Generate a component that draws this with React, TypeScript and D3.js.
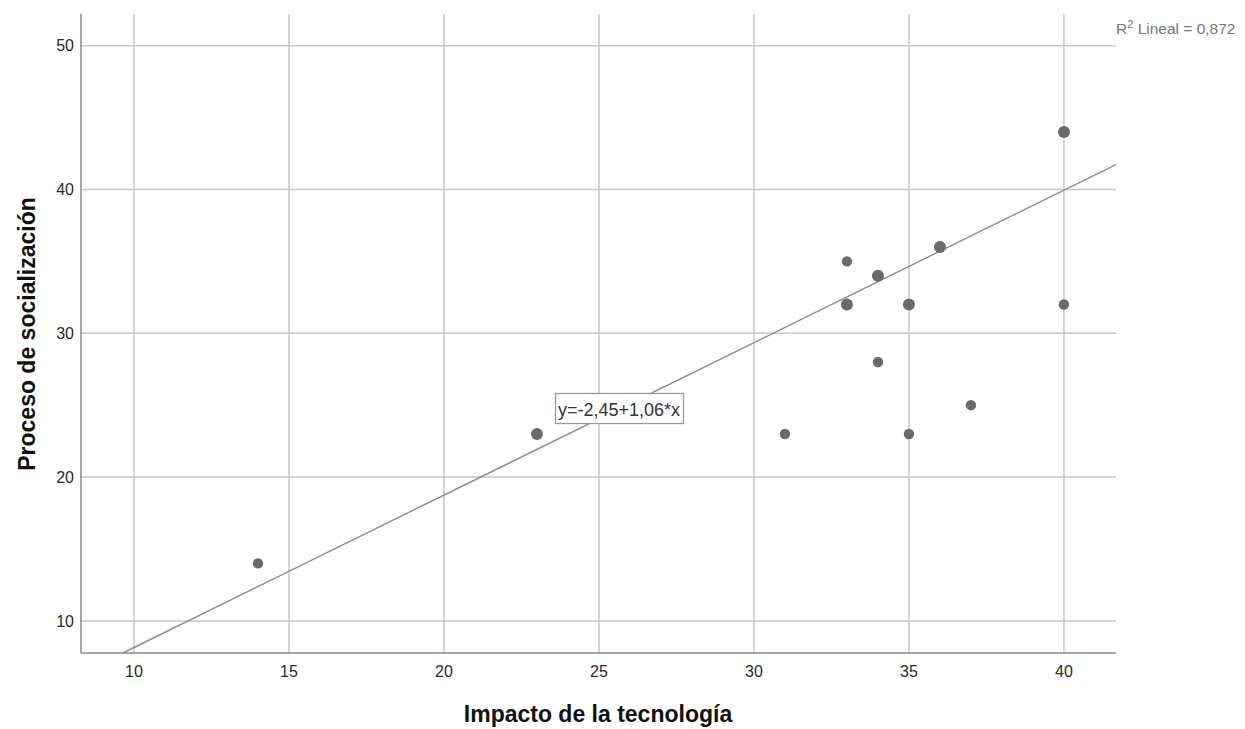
import React from "react";
import * as d3 from "d3";

const xTicks = [10, 15, 20, 25, 30, 35, 40];
const yTicks = [10, 20, 30, 40, 50];
const pointsX = [14, 23, 31, 33, 33, 34, 34, 35, 35, 36, 37, 40, 40];
const pointsY = [14, 23, 23, 35, 32, 34, 28, 32, 23, 36, 25, 44, 32];
const pointsN = [1, 2, 1, 1, 2, 2, 1, 2, 1, 2, 1, 2, 1];
const intercept = -2.45;
const slope = 1.06;
const fitLabel = "y=-2,45+1,06*x";
const r2Label = "0,872";

export default function App() {
  const W = 1245, H = 729;
  const left = 81, right = 1116, top = 14, bottom = 653;
  const x = d3.scaleLinear().domain([8.29, 41.68]).range([left, right]);
  const y = d3.scaleLinear().domain([7.77, 52.2]).range([bottom, top]);
  const [x0, x1] = x.domain();
  const [y0, y1] = y.domain();
  const xs = (y0 - intercept) / slope;
  const lineStart = xs > x0 ? [xs, y0] : [x0, intercept + slope * x0];
  const ye = intercept + slope * x1;
  const lineEnd = ye < y1 ? [x1, ye] : [(y1 - intercept) / slope, y1];
  const font = "Arial, 'Liberation Sans', sans-serif";
  return (
    <svg width={W} height={H} style={{ position: "absolute", left: 0, top: 0, background: "#fff" }} fontFamily={font}>
      <rect x={0} y={0} width={W} height={H} fill="#fff" />
      {xTicks.map((t) => (
        <line key={"gx" + t} x1={x(t)} x2={x(t)} y1={top} y2={bottom} stroke="#c8c8c8" strokeWidth={1.5} />
      ))}
      {yTicks.map((t) => (
        <line key={"gy" + t} x1={left} x2={right} y1={y(t)} y2={y(t)} stroke="#c8c8c8" strokeWidth={1.5} />
      ))}
      <line x1={left} x2={left} y1={top} y2={bottom} stroke="#8a8a8a" strokeWidth={1.5} />
      <line x1={left} x2={right} y1={bottom} y2={bottom} stroke="#8a8a8a" strokeWidth={1.5} />
      {yTicks.map((t) => (
        <text key={"ty" + t} x={74} y={y(t)} dy="0.36em" textAnchor="end" fontSize={16} fill="#2a2a2a">{t}</text>
      ))}
      {xTicks.map((t) => (
        <text key={"tx" + t} x={x(t)} y={677} textAnchor="middle" fontSize={16} fill="#2a2a2a">{t}</text>
      ))}
      <line
        x1={x(lineStart[0])} y1={y(lineStart[1])}
        x2={x(lineEnd[0])} y2={y(lineEnd[1])}
        stroke="#8c8c8c" strokeWidth={1.4}
      />
      {pointsX.map((px, i) => (
        <circle key={"p" + i} cx={x(px)} cy={y(pointsY[i])} r={pointsN[i] > 1 ? 6 : 5.2} fill="#6a6a6a" />
      ))}
      <g>
        <rect x={555.5} y={393.5} width={128} height={30} fill="#fff" stroke="#9a9a9a" strokeWidth={1.3} />
        <text x={619} y={416} textAnchor="middle" fontSize={18} fill="#333">{fitLabel}</text>
      </g>
      <text x={1116} y={34} fontSize={15.5} fill="#777">
        R<tspan dy={-6} fontSize={11}>2</tspan><tspan dy={6}> Lineal = {r2Label}</tspan>
      </text>
      <text x={598} y={722} textAnchor="middle" fontSize={23} fontWeight="bold" fill="#111">Impacto de la tecnología</text>
      <text transform={`translate(35,334) rotate(-90)`} textAnchor="middle" fontSize={23} fontWeight="bold" fill="#111">Proceso de socialización</text>
    </svg>
  );
}
